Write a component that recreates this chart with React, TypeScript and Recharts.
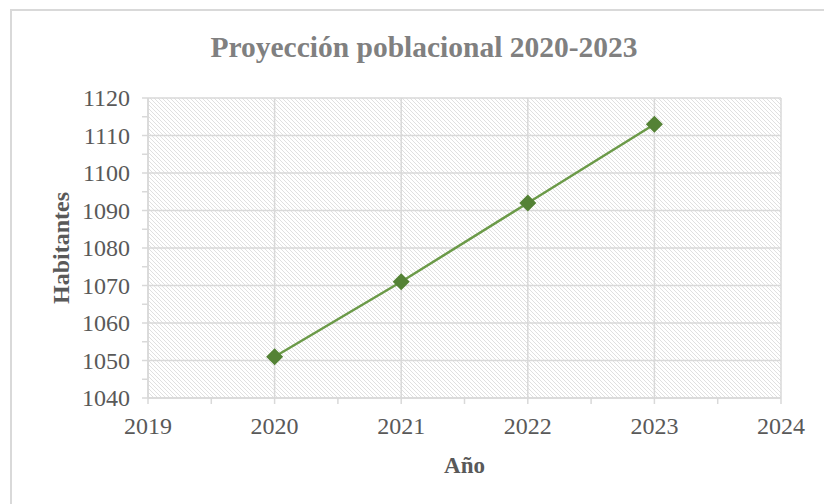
import React from 'react';
import { LineChart, Line, XAxis, YAxis, CartesianGrid } from 'recharts';

const years = [2020, 2021, 2022, 2023];
const habitantes = [1051, 1071, 1092, 1113];

// all tick positions (minor + major) and the ones that carry a label / grid line
const xTicks = [2019, 2019.5, 2020, 2020.5, 2021, 2021.5, 2022, 2022.5, 2023, 2023.5, 2024];
const xLabels = [2019, 2020, 2021, 2022, 2023, 2024];
const yTicks = [1040, 1045, 1050, 1055, 1060, 1065, 1070, 1075, 1080, 1085, 1090, 1095, 1100, 1105, 1110, 1115, 1120];
const yLabels = [1040, 1050, 1060, 1070, 1080, 1090, 1100, 1110, 1120];

const data = years.map((y, i) => ({ year: y, value: habitantes[i] }));

const FONT = '"Liberation Serif", "Times New Roman", serif';
const GRID = '#d9d9d9';
const TEXT = '#595959';

const tickStyle = { fontFamily: FONT, fontSize: 24, fill: TEXT };

const XTick = ({ x, y, payload }: any) => {
  if (!xLabels.includes(payload.value)) return null;
  return (
    <text x={x} y={y} dy="0.71em" textAnchor="middle" fontFamily={FONT} style={tickStyle}>
      {payload.value}
    </text>
  );
};

const YTick = ({ x, y, payload }: any) => {
  if (!yLabels.includes(payload.value)) return null;
  return (
    <text x={x} y={y} dy="0.34em" textAnchor="end" fontFamily={FONT} style={tickStyle}>
      {payload.value}
    </text>
  );
};

const Diamond = ({ cx, cy }: any) => {
  if (cx == null || cy == null) return null;
  const r = 8.5;
  return (
    <polygon
      points={`${cx},${cy - r} ${cx + r},${cy} ${cx},${cy + r} ${cx - r},${cy}`}
      fill="#548235"
    />
  );
};

export default function App() {
  return (
    <div style={{ position: 'absolute', left: 0, top: 0, width: 824, height: 504, overflow: 'hidden', background: '#fff' }}>
      <div
        style={{
          position: 'absolute', left: 10, top: 9, width: 900, height: 600,
          borderTop: `2px solid ${GRID}`, borderLeft: `2px solid ${GRID}`,
        }}
      />
      <div
        style={{
          position: 'absolute', left: 0, top: 33, width: 848, textAlign: 'center',
          fontFamily: FONT, fontWeight: 'bold', fontSize: 29.5, lineHeight: '29px', color: '#808080',
        }}
      >
        Proyección poblacional 2020-2023
      </div>
      <LineChart width={824} height={504} data={data} margin={{ top: 98, right: 43, bottom: 0, left: 0 }}>
        <defs>
          <pattern id="hatch" patternUnits="userSpaceOnUse" width={4} height={4}>
            <path d="M-1,-1 L5,5 M-1,3 L1,5 M3,-1 L5,1" stroke="#e0e0e0" strokeWidth={1} />
          </pattern>
        </defs>
        <CartesianGrid
          fill="url(#hatch)"
          fillOpacity={1}
          stroke={GRID}
          strokeWidth={1.5}
          horizontalValues={yLabels}
          verticalValues={xLabels}
        />
        <XAxis
          dataKey="year"
          type="number"
          domain={[2019, 2024]}
          ticks={xTicks}
          interval={0}
          height={106}
          tickSize={6}
          tickMargin={13}
          tick={<XTick />}
          axisLine={{ stroke: GRID, strokeWidth: 1.5 }}
          tickLine={{ stroke: GRID, strokeWidth: 1.5 }}
          label={({ viewBox }: any) => (
            <text
              x={viewBox.x + viewBox.width / 2}
              y={viewBox.y + 75}
              textAnchor="middle"
              fontFamily={FONT}
              style={{ fontFamily: FONT, fontSize: 23, fontWeight: 'bold', fill: TEXT }}
            >
              Año
            </text>
          )}
        />
        <YAxis
          type="number"
          domain={[1040, 1120]}
          ticks={yTicks}
          interval={0}
          width={148}
          tickSize={6}
          tickMargin={12}
          tick={<YTick />}
          axisLine={{ stroke: GRID, strokeWidth: 1.5 }}
          tickLine={{ stroke: GRID, strokeWidth: 1.5 }}
          label={({ viewBox }: any) => {
            const cx = viewBox.x + 61;
            const cy = viewBox.y + viewBox.height / 2;
            return (
              <text
                x={cx}
                y={cy}
                transform={`rotate(-90, ${cx}, ${cy})`}
                textAnchor="middle"
                dominantBaseline="central"
                fontFamily={FONT}
                style={{ fontFamily: FONT, fontSize: 24, fontWeight: 'bold', fill: TEXT }}
              >
                Habitantes
              </text>
            );
          }}
        />
        <Line
          type="linear"
          dataKey="value"
          stroke="#6b9a48"
          strokeWidth={2.5}
          dot={<Diamond />}
          activeDot={false}
          isAnimationActive={false}
        />
      </LineChart>
    </div>
  );
}
